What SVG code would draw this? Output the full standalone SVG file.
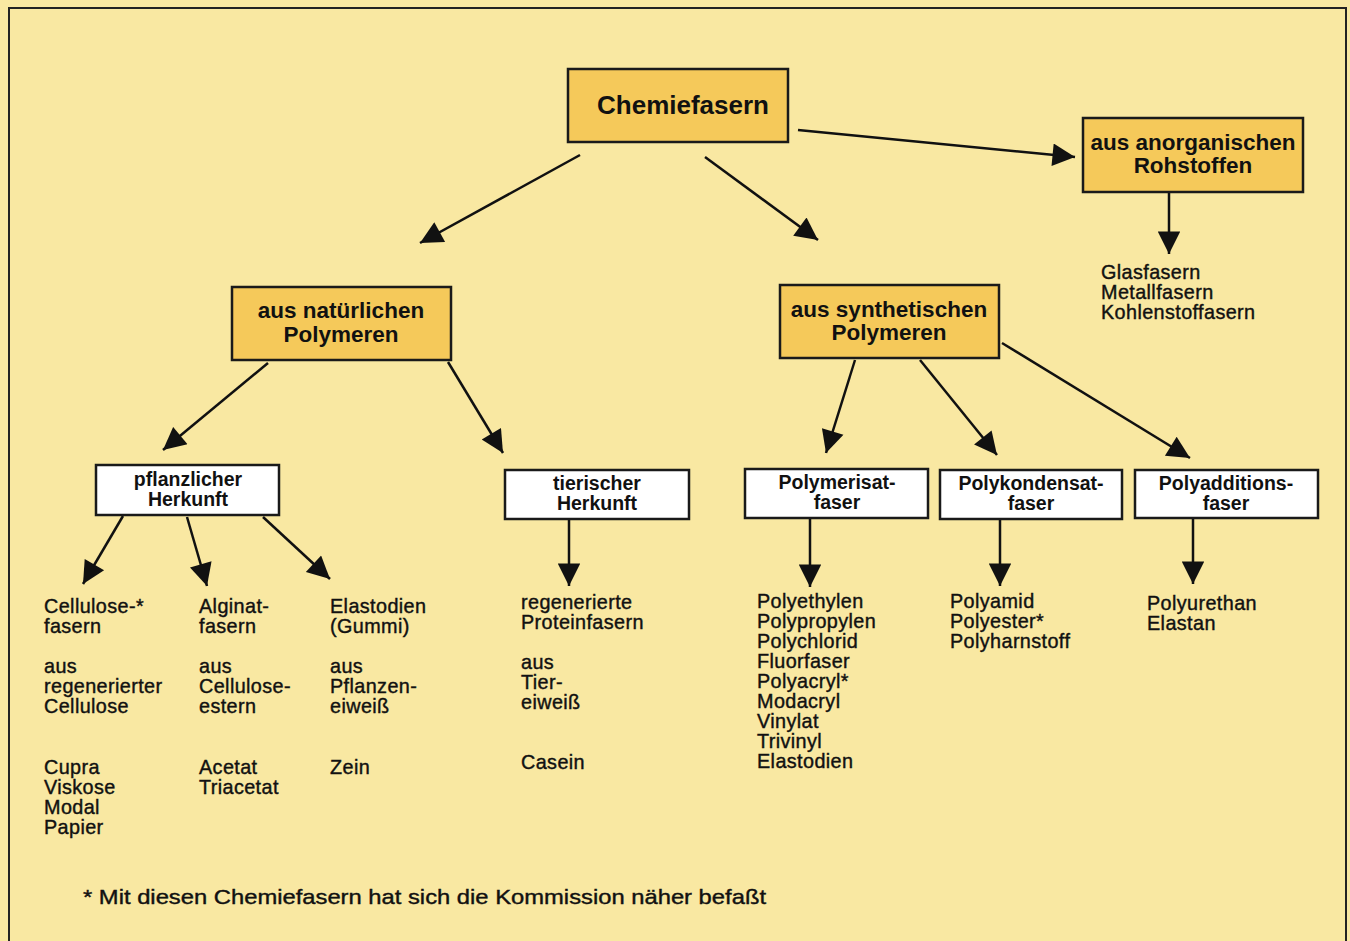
<svg xmlns="http://www.w3.org/2000/svg" width="1350" height="941" viewBox="0 0 1350 941">
<defs>
<style>
.bg{fill:#f9e8a2}
.frame{fill:none;stroke:#222;stroke-width:2}
.ybox{fill:#f5c95a;stroke:#1a1a1a;stroke-width:2.5}
.wbox{fill:#ffffff;stroke:#1a1a1a;stroke-width:2.5}
.t1{font-family:"Liberation Sans",Arial,sans-serif;font-weight:bold;font-size:26px;fill:#111;text-anchor:middle}
.t2{font-family:"Liberation Sans",Arial,sans-serif;font-weight:bold;font-size:22.5px;fill:#111;text-anchor:middle}
.t3{font-family:"Liberation Sans",Arial,sans-serif;font-weight:bold;font-size:19.5px;fill:#111;text-anchor:middle}
.tx{font-family:"Liberation Sans",Arial,sans-serif;font-size:19.8px;letter-spacing:0.4px;fill:#111;stroke:#111;stroke-width:0.4}
.ln{stroke:#111;stroke-width:2.5;fill:none;marker-end:url(#ah)}
</style>
<marker id="ah" viewBox="0 0 10 10" refX="10" refY="5" markerWidth="10" markerHeight="9" markerUnits="strokeWidth" orient="auto">
<path d="M0,0 L10,5 L0,10 z" fill="#111"/>
</marker>
</defs>
<rect class="bg" x="0" y="0" width="1350" height="941"/>
<path class="frame" d="M9,941 V8 H1346 V941"/>

<g id="connectors">
<line class="ln" x1="580" y1="155" x2="420" y2="243"/>
<line class="ln" x1="705" y1="157" x2="818" y2="240"/>
<line class="ln" x1="798" y1="130" x2="1075" y2="157"/>
<line class="ln" x1="1169" y1="192" x2="1169" y2="254"/>
<line class="ln" x1="268" y1="363" x2="163" y2="450"/>
<line class="ln" x1="448" y1="362" x2="503" y2="453"/>
<line class="ln" x1="855" y1="360" x2="826" y2="453"/>
<line class="ln" x1="920" y1="360" x2="997" y2="455"/>
<line class="ln" x1="1002" y1="343" x2="1190" y2="458"/>
<line class="ln" x1="123" y1="516" x2="83" y2="584"/>
<line class="ln" x1="187" y1="517" x2="207" y2="586"/>
<line class="ln" x1="263" y1="517" x2="330" y2="579"/>
<line class="ln" x1="569" y1="520" x2="569" y2="586"/>
<line class="ln" x1="810" y1="519" x2="810" y2="587"/>
<line class="ln" x1="1000" y1="520" x2="1000" y2="586"/>
<line class="ln" x1="1193" y1="519" x2="1193" y2="584"/>
</g>

<g id="chemiefasern">
<rect class="ybox" x="568" y="69" width="220" height="73"/>
<text class="t1" x="683" y="114">Chemiefasern</text>
</g>
<g id="anorganisch">
<rect class="ybox" x="1083" y="118" width="220" height="74"/>
<text class="t2" x="1193" y="150">aus anorganischen<tspan x="1193" dy="23">Rohstoffen</tspan></text>
</g>
<g id="natuerlich">
<rect class="ybox" x="232" y="287" width="219" height="73"/>
<text class="t2" x="341" y="318">aus natürlichen<tspan x="341" dy="24">Polymeren</tspan></text>
</g>
<g id="synthetisch">
<rect class="ybox" x="780" y="285" width="219" height="73"/>
<text class="t2" x="889" y="317">aus synthetischen<tspan x="889" dy="23">Polymeren</tspan></text>
</g>
<g id="pflanzlich">
<rect class="wbox" x="96" y="465" width="183" height="50"/>
<text class="t3" x="188" y="486">pflanzlicher<tspan x="188" dy="20">Herkunft</tspan></text>
</g>
<g id="tierisch">
<rect class="wbox" x="505" y="470" width="184" height="49"/>
<text class="t3" x="597" y="490">tierischer<tspan x="597" dy="20">Herkunft</tspan></text>
</g>
<g id="polymerisat">
<rect class="wbox" x="745" y="469" width="183" height="49"/>
<text class="t3" x="837" y="489">Polymerisat-<tspan x="837" dy="20">faser</tspan></text>
</g>
<g id="polykondensat">
<rect class="wbox" x="940" y="470" width="182" height="49"/>
<text class="t3" x="1031" y="490">Polykondensat-<tspan x="1031" dy="20">faser</tspan></text>
</g>
<g id="polyaddition">
<rect class="wbox" x="1135" y="470" width="183" height="48"/>
<text class="t3" x="1226" y="490">Polyadditions-<tspan x="1226" dy="20">faser</tspan></text>
</g>

<g id="anorg-list">
<text class="tx" x="1101" y="279">Glasfasern<tspan x="1101" dy="20">Metallfasern</tspan><tspan x="1101" dy="20">Kohlenstoffasern</tspan></text>
</g>
<g id="cellulose-list">
<text class="tx" x="44" y="613">Cellulose-*<tspan x="44" dy="20">fasern</tspan></text>
<text class="tx" x="44" y="673">aus<tspan x="44" dy="20">regenerierter</tspan><tspan x="44" dy="20">Cellulose</tspan></text>
<text class="tx" x="44" y="774">Cupra<tspan x="44" dy="20">Viskose</tspan><tspan x="44" dy="20">Modal</tspan><tspan x="44" dy="20">Papier</tspan></text>
</g>
<g id="alginat-list">
<text class="tx" x="199" y="613">Alginat-<tspan x="199" dy="20">fasern</tspan></text>
<text class="tx" x="199" y="673">aus<tspan x="199" dy="20">Cellulose-</tspan><tspan x="199" dy="20">estern</tspan></text>
<text class="tx" x="199" y="774">Acetat<tspan x="199" dy="20">Triacetat</tspan></text>
</g>
<g id="elastodien-list">
<text class="tx" x="330" y="613">Elastodien<tspan x="330" dy="20">(Gummi)</tspan></text>
<text class="tx" x="330" y="673">aus<tspan x="330" dy="20">Pflanzen-</tspan><tspan x="330" dy="20">eiweiß</tspan></text>
<text class="tx" x="330" y="774">Zein</text>
</g>
<g id="tierisch-list">
<text class="tx" x="521" y="609">regenerierte<tspan x="521" dy="20">Proteinfasern</tspan></text>
<text class="tx" x="521" y="669">aus<tspan x="521" dy="20">Tier-</tspan><tspan x="521" dy="20">eiweiß</tspan></text>
<text class="tx" x="521" y="769">Casein</text>
</g>
<g id="polymerisat-list">
<text class="tx" x="757" y="608">Polyethylen<tspan x="757" dy="20">Polypropylen</tspan><tspan x="757" dy="20">Polychlorid</tspan><tspan x="757" dy="20">Fluorfaser</tspan><tspan x="757" dy="20">Polyacryl*</tspan><tspan x="757" dy="20">Modacryl</tspan><tspan x="757" dy="20">Vinylat</tspan><tspan x="757" dy="20">Trivinyl</tspan><tspan x="757" dy="20">Elastodien</tspan></text>
</g>
<g id="polykondensat-list">
<text class="tx" x="950" y="608">Polyamid<tspan x="950" dy="20">Polyester*</tspan><tspan x="950" dy="20">Polyharnstoff</tspan></text>
</g>
<g id="polyaddition-list">
<text class="tx" x="1147" y="610">Polyurethan<tspan x="1147" dy="20">Elastan</tspan></text>
</g>
<text class="tx" x="83" y="904" style="font-size:21px;letter-spacing:0" textLength="683" lengthAdjust="spacingAndGlyphs">* Mit diesen Chemiefasern hat sich die Kommission näher befaßt</text>
</svg>
